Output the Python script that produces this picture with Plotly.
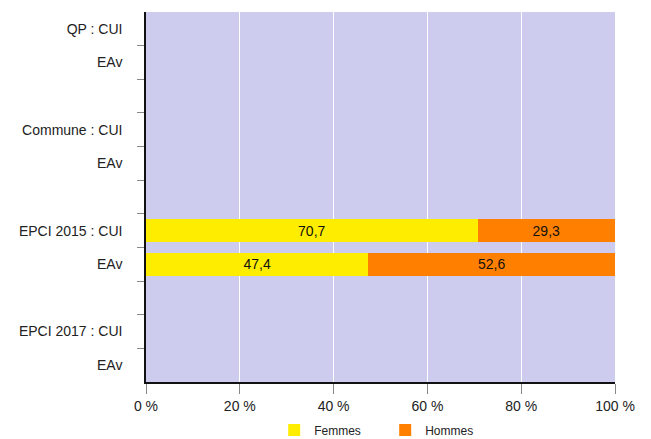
import plotly.graph_objects as go

categories = ["QP : CUI", "EAv", "", "Commune : CUI", "EAv", "", "EPCI 2015 : CUI", "EAv", "", "EPCI 2017 : CUI", "EAv"]
femmes = [None, None, None, None, None, None, 70.7, 47.4, None, None, None]
hommes = [None, None, None, None, None, None, 29.3, 52.6, None, None, None]
x_ticks = [0, 20, 40, 60, 80, 100]
x_ticklabels = ["0 %", "20 %", "40 %", "60 %", "80 %", "100 %"]

n = len(categories)
ypos = list(range(n))

def fmt(v):
    return "" if v is None else f"{v:.1f}".replace(".", ",")

fig = go.Figure()
fig.add_trace(go.Bar(
    y=ypos, x=femmes, orientation="h", name="Femmes",
    marker=dict(color="#FFED00", line=dict(width=0)), width=0.68,
    text=[fmt(v) for v in femmes], textposition="inside", insidetextanchor="middle",
    textfont=dict(color="#111111", size=14), hoverinfo="skip"))
fig.add_trace(go.Bar(
    y=ypos, x=hommes, orientation="h", name="Hommes",
    marker=dict(color="#FF8000", line=dict(width=0)), width=0.68,
    text=[fmt(v) for v in hommes], textposition="inside", insidetextanchor="middle",
    textfont=dict(color="#111111", size=14), hoverinfo="skip"))

fig.update_layout(
    barmode="stack",
    width=643, height=431,
    margin=dict(l=138, r=36, t=4, b=57, autoexpand=False),
    paper_bgcolor="white",
    plot_bgcolor="#CDCCEF",
    font=dict(family="Liberation Sans, Arial, sans-serif", size=14, color="#222222"),
    showlegend=True,
    legend=dict(orientation="h", x=0.51, xanchor="center", y=-0.13, yanchor="middle",
                font=dict(size=12), traceorder="normal", itemwidth=30,
                entrywidth=66, entrywidthmode="pixels"),
)
fig.update_xaxes(
    range=[0, 100], tickvals=x_ticks, ticktext=x_ticklabels,
    showgrid=True, gridcolor="white", gridwidth=1,
    showline=True, linecolor="#111111", linewidth=1.5,
    ticks="outside", ticklen=10, tickcolor="#888888",
    zeroline=False, fixedrange=True, tickfont=dict(size=14))
fig.update_yaxes(
    range=[n - 0.5, -0.5], tickvals=ypos, ticktext=categories,
    showgrid=False, showline=True, linecolor="#111111", linewidth=1.5,
    ticks="", zeroline=False, ticklabelstandoff=19, tickfont=dict(size=14),
    minor=dict(tickvals=[i + 0.5 for i in range(n - 1)], ticks="outside",
               ticklen=7, tickcolor="#888888", showgrid=False))

fig.write_html("out.html")
